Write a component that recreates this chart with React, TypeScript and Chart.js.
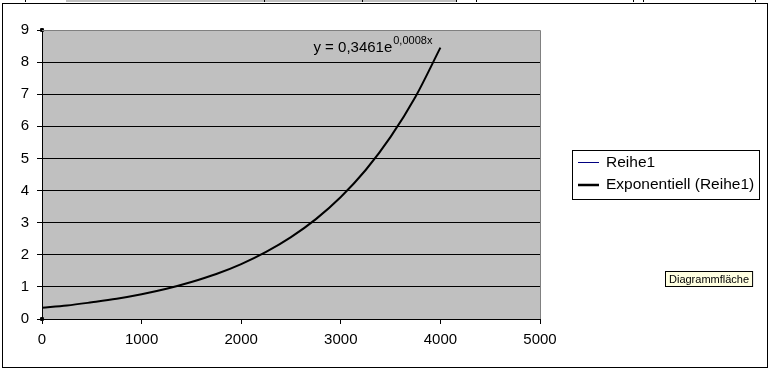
import React, { useEffect, useRef } from "react";
import { Chart, registerables } from "chart.js";

Chart.register(...registerables);

// ---- data ----
const xTicks = [0, 1000, 2000, 3000, 4000, 5000];
const yTicks = [0, 1, 2, 3, 4, 5, 6, 7, 8, 9];
const reihe1X = [0, 0];
const reihe1Y = [9, 0];
const trendX = [0, 250, 500, 750, 1000, 1250, 1500, 1750, 2000, 2250, 2500, 2750, 3000, 3250, 3500, 3750, 4000];
const trendY = [0.35, 0.42, 0.52, 0.63, 0.77, 0.94, 1.15, 1.4, 1.71, 2.09, 2.55, 3.11, 3.8, 4.64, 5.67, 6.92, 8.45];
const seriesNames = ["Reihe1", "Exponentiell (Reihe1)"];
const equationMain = "y = 0,3461e";
const equationSup = "0,0008x";
const chartAreaLabel = "Diagrammfläche";

const FONT = "'Liberation Sans', Arial, sans-serif";

const decorPlugin = {
  id: "decor",
  beforeDraw(chart: any) {
    const { ctx, chartArea } = chart;
    ctx.save();
    ctx.fillStyle = "#ffffff";
    ctx.fillRect(0, 0, chart.width, chart.height);
    // spreadsheet strip above chart
    ctx.fillStyle = "#c0c0c0";
    ctx.fillRect(66, 0, 390, 2);
    ctx.fillStyle = "#000000";
    [25, 264, 362, 456, 476, 633, 643, 755].forEach((x) => ctx.fillRect(x, 0, 1, 2));
    // outer chart frame
    ctx.strokeStyle = "#000000";
    ctx.lineWidth = 1;
    ctx.strokeRect(2.5, 3.5, 765, 364);
    // plot area fill
    ctx.fillStyle = "#c0c0c0";
    ctx.fillRect(chartArea.left, chartArea.top, chartArea.right - chartArea.left, chartArea.bottom - chartArea.top);
    ctx.restore();
  },
  afterDraw(chart: any) {
    const { ctx, chartArea, scales } = chart;
    ctx.save();
    // gray border top/right
    ctx.strokeStyle = "#808080";
    ctx.lineWidth = 1;
    ctx.beginPath();
    ctx.moveTo(chartArea.left, chartArea.top + 0.5);
    ctx.lineTo(chartArea.right + 0.5, chartArea.top + 0.5);
    ctx.lineTo(chartArea.right + 0.5, chartArea.bottom);
    ctx.stroke();

    // equation label near the end of the trendline
    const xEnd = scales.x.getPixelForValue(trendX[trendX.length - 1]);
    const yEnd = scales.y.getPixelForValue(trendY[trendY.length - 1]);
    ctx.fillStyle = "#000000";
    ctx.textBaseline = "alphabetic";
    ctx.font = "11px " + FONT;
    const supW = ctx.measureText(equationSup).width;
    ctx.font = "15px " + FONT;
    const mainW = ctx.measureText(equationMain).width;
    const right = xEnd - 8;
    const baseY = yEnd + 4;
    const startX = right - supW - mainW - 1;
    ctx.fillText(equationMain, startX, baseY);
    ctx.font = "11px " + FONT;
    ctx.fillText(equationSup, startX + mainW + 1, baseY - 8);

    // legend
    const lx = 572, ly = 150, lw = 187, lh = 49;
    ctx.fillStyle = "#ffffff";
    ctx.fillRect(lx, ly, lw, lh);
    ctx.strokeStyle = "#000000";
    ctx.lineWidth = 1;
    ctx.strokeRect(lx + 0.5, ly + 0.5, lw, lh);
    const ds = chart.data.datasets;
    const rows = [162.5, 185];
    ds.forEach((d: any, i: number) => {
      const y = rows[i];
      ctx.strokeStyle = d.borderColor;
      ctx.lineWidth = i === 0 ? 1 : 2.5;
      ctx.beginPath();
      ctx.moveTo(578, y);
      ctx.lineTo(599, y);
      ctx.stroke();
      ctx.fillStyle = "#000000";
      ctx.font = "15.5px " + FONT;
      ctx.textBaseline = "middle";
      ctx.fillText(d.label, 606, y);
    });

    // tooltip box
    ctx.font = "11px " + FONT;
    const tw = ctx.measureText(chartAreaLabel).width;
    const bx = 665, by = 271, bw = tw + 7, bh = 15;
    ctx.fillStyle = "#ffffe1";
    ctx.fillRect(bx, by, bw, bh);
    ctx.strokeStyle = "#000000";
    ctx.lineWidth = 1;
    ctx.strokeRect(bx + 0.5, by + 0.5, bw, bh);
    ctx.fillStyle = "#000000";
    ctx.textBaseline = "middle";
    ctx.fillText(chartAreaLabel, bx + 4, by + bh / 2 + 1);
    ctx.restore();
  },
};

export default function App() {
  const ref = useRef<HTMLCanvasElement>(null);
  useEffect(() => {
    document.body.style.margin = "0";
    const canvas = ref.current!;
    const chart = new Chart(canvas, {
      type: "line",
      data: {
        datasets: [
          {
            label: seriesNames[0],
            data: reihe1X.map((x, i) => ({ x, y: reihe1Y[i] })),
            borderColor: "#000080",
            backgroundColor: "#000000",
            borderWidth: 1,
            showLine: false,
            clip: false,
            pointRadius: 2,
            pointStyle: "rect",
            pointBorderColor: "#000000",
            pointBackgroundColor: "#000000",
          },
          {
            label: seriesNames[1],
            data: trendX.map((x, i) => ({ x, y: trendY[i] })),
            borderColor: "#000000",
            borderWidth: 2,
            pointRadius: 0,
            cubicInterpolationMode: "monotone",
          },
        ],
      },
      options: {
        animation: false,
        responsive: false,
        devicePixelRatio: 1,
        layout: { padding: { top: 30, right: 230, left: 0, bottom: 0 } },
        plugins: { legend: { display: false }, tooltip: { enabled: false } },
        scales: {
          x: {
            type: "linear",
            min: xTicks[0],
            max: xTicks[xTicks.length - 1],
            afterBuildTicks: (s: any) => {
              s.ticks = xTicks.map((v) => ({ value: v }));
            },
            afterFit: (s: any) => {
              s.height = 51;
            },
            grid: { drawOnChartArea: false, tickLength: 5, tickColor: "#000000", color: "#000000" },
            border: { display: true, color: "#000000", width: 1 },
            ticks: {
              color: "#000000",
              font: { family: FONT, size: 15 },
              padding: 7,
              maxRotation: 0,
              callback: (v: any) => String(v),
            },
          },
          y: {
            type: "linear",
            min: yTicks[0],
            max: yTicks[yTicks.length - 1],
            afterBuildTicks: (s: any) => {
              s.ticks = yTicks.map((v) => ({ value: v }));
            },
            afterFit: (s: any) => {
              s.width = 42;
            },
            grid: {
              tickLength: 5,
              tickColor: "#000000",
              color: (c: any) => (c.tick && c.tick.value === yTicks[yTicks.length - 1] ? "#808080" : "#000000"),
            },
            border: { display: true, color: "#000000", width: 1 },
            ticks: {
              color: "#000000",
              font: { family: FONT, size: 15 },
              padding: 8,
              callback: (v: any) => String(v),
            },
          },
        },
      },
      plugins: [decorPlugin],
    } as any);
    return () => chart.destroy();
  }, []);
  return (
    <div style={{ width: 770, height: 370 }}>
      <canvas ref={ref} width={770} height={370} />
    </div>
  );
}
